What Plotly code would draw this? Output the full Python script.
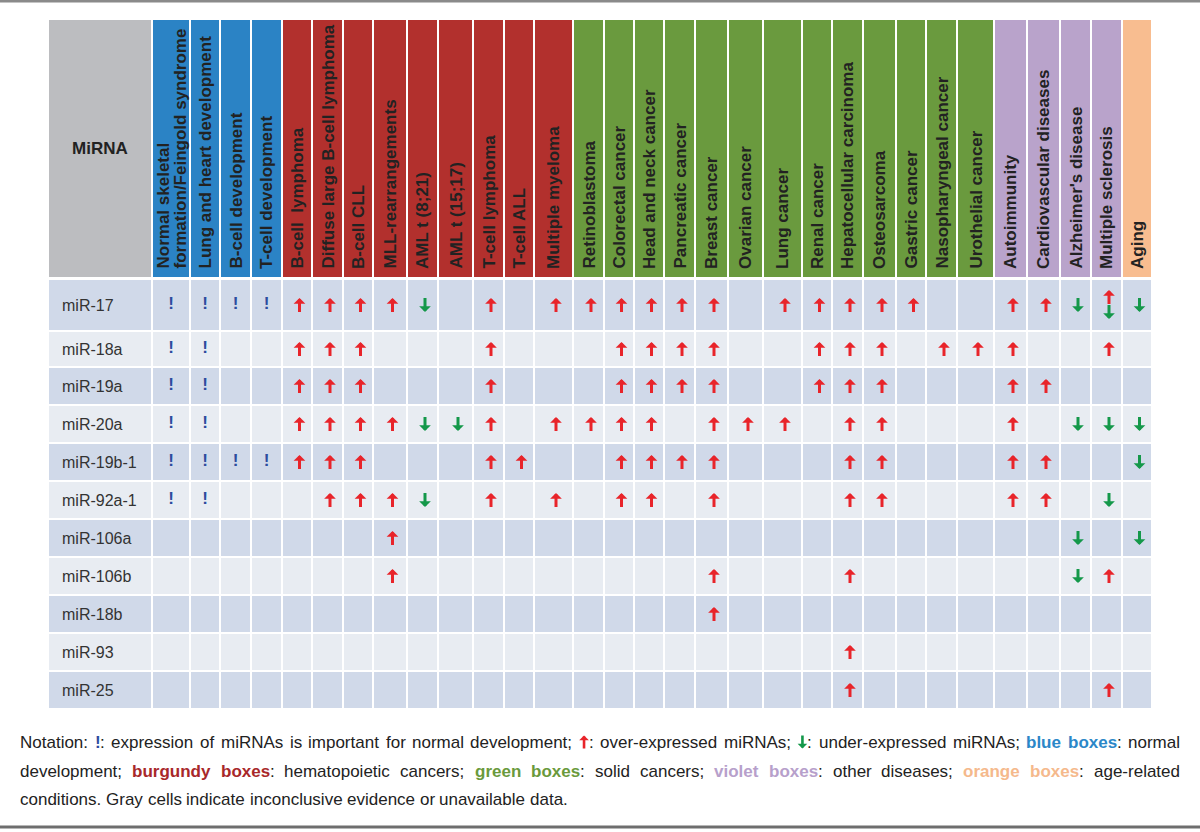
import re
import plotly.graph_objects as go

# ---------------- data ----------------
mirnas = ["miR-17", "miR-18a", "miR-19a", "miR-20a", "miR-19b-1", "miR-92a-1",
          "miR-106a", "miR-106b", "miR-18b", "miR-93", "miR-25"]

conditions = ["Normal skeletal<br>formation/Feingold syndrome", "Lung and heart development",
              "B-cell development", "T-cell development", "B-cell  lymphoma",
              "Diffuse large B-cell lymphoma", "B-cell CLL", "MLL-rearrangements",
              "AML t (8;21)", "AML t (15;17)", "T-cell lymphoma", "T-cell ALL",
              "Multiple myeloma", "Retinoblastoma", "Colorectal cancer", "Head and neck cancer",
              "Pancreatic cancer", "Breast cancer", "Ovarian cancer", "Lung cancer",
              "Renal cancer", "Hepatocellular carcinoma", "Osteosarcoma", "Gastric cancer",
              "Nasopharyngeal cancer", "Urothelial cancer", "Autoimmunity",
              "Cardiovascular diseases", "Alzheimer's disease", "Multiple sclerosis", "Aging"]

condition_groups = (["normal"] * 4 + ["hemato"] * 9 + ["solid"] * 13 +
                    ["other"] * 4 + ["age"])

# ! = important for development, u = over-expressed, d = under-expressed, ud = both, . = none
marks = [
    "! ! ! ! u u u u d . u . u u u u u u . u u u u u . . u u d ud d",
    "! ! . . u u u . . . u . . . u u u u . . u u u . u u u . . u .",
    "! ! . . u u u . . . u . . . u u u u . . u u u . . . u u . . .",
    "! ! . . u u u u d d u . u u u u . u u u . u u . . . u . d d d",
    "! ! ! ! u u u . . . u u . . u u u u . . . u u . . . u u . . d",
    "! ! . . . u u u d . u . u . u u . u . . . u u . . . u u . d .",
    ". . . . . . . u . . . . . . . . . . . . . . . . . . . . d . d",
    ". . . . . . . u . . . . . . . . . u . . . u . . . . . . d u .",
    ". . . . . . . . . . . . . . . . . u . . . . . . . . . . . . .",
    ". . . . . . . . . . . . . . . . . . . . . u . . . . . . . . .",
    ". . . . . . . . . . . . . . . . . . . . . u . . . . . . . u .",
]

notation_lines = [
    "Notation: {dev:!}: expression of miRNAs is important for normal development; {up}: "
    "over-expressed miRNAs; {down}: under-expressed miRNAs; {blue:blue} {blue:boxes}: normal",
    "development; {burgundy:burgundy} {burgundy:boxes}: hematopoietic cancers; {green:green} "
    "{green:boxes}: solid cancers; {violet:violet} {violet:boxes}: other diseases; "
    "{orange:orange} {orange:boxes}: age-related",
    "conditions. Gray cells indicate inconclusive evidence or unavailable data.",
]

# ---------------- layout geometry / styles ----------------
W, H = 1200, 832
label_edge = 48
col_edges = [152, 190, 220, 251, 282, 312, 343, 373, 407, 438, 473, 504, 534, 573, 604,
             634, 664, 695, 728, 763, 802, 832, 863, 896, 926, 957, 994, 1027, 1060, 1091,
             1122, 1152]
header_edges = [19, 278]
row_edges = [279, 331, 367, 405, 443, 481, 519, 557, 595, 633, 671, 709]

FONT = "Liberation Sans, Arial, Helvetica, sans-serif"
group_colors = {"label": "#bcbdc0", "normal": "#2b83c5", "hemato": "#b2302d",
                "solid": "#6a9a3e", "other": "#b9a3cb", "age": "#f8bd90"}
group_order = ["label", "normal", "hemato", "solid", "other", "age"]
row_light, row_dark = "#e8ecf2", "#d0d9e9"
UP_COLOR, DOWN_COLOR, DEV_COLOR = "#e8242a", "#14984a", "#2d4c9e"
note_colors = {"n": "#222222", "dev": DEV_COLOR, "blue": "#2b87c8", "burgundy": "#a8282a",
               "green": "#6a9a3c", "violet": "#b7a0cb", "orange": "#f5b98c"}

fig = go.Figure()

# header band
hdr_codes = [0] + [group_order.index(g) for g in condition_groups]
n_g = len(group_order)
hdr_scale = []
for k, g in enumerate(group_order):
    hdr_scale += [[k / n_g, group_colors[g]], [(k + 1) / n_g, group_colors[g]]]
fig.add_trace(go.Heatmap(x=[label_edge] + col_edges, y=header_edges, z=[hdr_codes],
                         zmin=-0.5, zmax=n_g - 0.5, colorscale=hdr_scale, showscale=False,
                         xgap=2, ygap=2, hoverinfo="skip"))

# body cells (alternating row shading)
body_z = [[i % 2] * (len(conditions) + 1) for i in range(len(mirnas))]
fig.add_trace(go.Heatmap(x=[label_edge] + col_edges, y=row_edges, z=body_z, zmin=0, zmax=1,
                         colorscale=[[0, row_dark], [0.5, row_dark], [0.5, row_light],
                                     [1, row_light]],
                         showscale=False, xgap=2, ygap=2, hoverinfo="skip"))

col_centers = [(col_edges[i] + col_edges[i + 1]) / 2 for i in range(len(conditions))]
row_centers = [(row_edges[i] + row_edges[i + 1]) / 2 for i in range(len(mirnas))]


def add_arrow(x, y, direction, length=14, width=3, size=0.65, xshift=2.5, dy=0):
    color = UP_COLOR if direction == "u" else DOWN_COLOR
    sign = 1 if direction == "u" else -1
    fig.add_annotation(x=x, y=y, xref="x", yref="y", text="", showarrow=True,
                       ax=0, ay=sign * length, axref="pixel", ayref="pixel",
                       arrowhead=1, arrowsize=size, arrowwidth=width, arrowcolor=color,
                       standoff=0, startstandoff=0, xshift=xshift, borderpad=0,
                       borderwidth=0, font=dict(size=1),
                       yshift=sign * length / 2 - dy)


# marks
dev_x, dev_y = [], []
for r, row in enumerate(marks):
    codes = row.split()
    for c, code in enumerate(codes):
        x, y = col_centers[c], row_centers[r]
        if code == "!":
            dev_x.append(x)
            dev_y.append(y)
        elif code == "u":
            add_arrow(x, y, "u")
        elif code == "d":
            add_arrow(x, y, "d")
        elif code == "ud":
            add_arrow(x, y, "u", dy=-8)
            add_arrow(x, y, "d", dy=7)
fig.add_trace(go.Scatter(x=dev_x, y=dev_y, mode="text", text=["<b>!</b>"] * len(dev_x),
                         textposition="middle center",
                         textfont=dict(family=FONT, size=17, color=DEV_COLOR),
                         hoverinfo="skip", showlegend=False))

# header labels
fig.add_annotation(x=(label_edge + col_edges[0]) / 2, y=148, text="<b>MiRNA</b>",
                   showarrow=False, font=dict(family=FONT, size=17, color="#222"))
for c, name in enumerate(conditions):
    lines = name.split("<br>")
    n = len(lines)
    for k, ln in enumerate(lines):
        fig.add_annotation(x=col_centers[c], y=270, text="<b>" + ln + "</b>", showarrow=False,
                           textangle=-90, xanchor="center", yanchor="bottom",
                           xshift=(k - (n - 1) / 2) * 17, borderpad=0,
                           font=dict(family=FONT, size=17, color="#222"))

# row labels
for r, name in enumerate(mirnas):
    fig.add_annotation(x=61, y=row_centers[r], text=name, showarrow=False, xanchor="left",
                       yanchor="middle", borderpad=0,
                       font=dict(family=FONT, size=16, color="#333"))

# ---------------- notation (justified text) ----------------
REG = dict(zip("abcdefghijklmnopqrstuvwxyz",
               [556, 556, 500, 556, 556, 278, 556, 556, 222, 222, 500, 222, 833, 556, 556,
                556, 556, 333, 500, 278, 556, 500, 722, 500, 500, 500]))
REG.update(dict(zip("ABCDEFGHIJKLMNOPQRSTUVWXYZ",
                    [667, 667, 722, 722, 667, 611, 778, 722, 278, 500, 667, 556, 833, 722,
                     778, 667, 778, 722, 667, 611, 722, 667, 944, 667, 667, 611])))
REG.update({" ": 278, "!": 278, ":": 278, ";": 278, ".": 278, ",": 278, "-": 333,
            "'": 191, "(": 333, ")": 333})
BLD = dict(zip("abcdefghijklmnopqrstuvwxyz",
               [556, 611, 556, 611, 556, 333, 611, 611, 278, 278, 556, 278, 889, 611, 611,
                611, 611, 389, 556, 333, 611, 556, 778, 556, 556, 500]))
BLD.update({"!": 333, ":": 333})
NOTE_SIZE = 17
ARROW_W = 10
TOK = re.compile(r"\{(\w+)(?::([^}]*))?\}|([^{]+)")


def parse_word(w):
    parts = []
    for m in TOK.finditer(w):
        if m.group(1):
            parts.append((m.group(2) or "", m.group(1)))
        else:
            parts.append((m.group(3), "n"))
    return parts


def part_width(txt, kind):
    if kind in ("up", "down"):
        return ARROW_W
    table = REG if kind == "n" else BLD
    return sum(table.get(ch, 556) for ch in txt) * NOTE_SIZE / 1000


line_y = [742, 771, 799]
x_left, x_right = 20, 1180
for li, line in enumerate(notation_lines):
    words = [parse_word(w) for w in line.split(" ")]
    widths = [sum(part_width(t, k) for t, k in wd) for wd in words]
    if li < len(notation_lines) - 1:
        gap = (x_right - x_left - sum(widths)) / (len(words) - 1)
    else:
        gap = REG[" "] * NOTE_SIZE / 1000
    x = x_left
    for wd, wdw in zip(words, widths):
        px = x
        for txt, kind in wd:
            pw = part_width(txt, kind)
            if kind == "up":
                add_arrow(px + pw / 2, line_y[li], "u", length=13, width=2.6, size=0.62,
                          xshift=0)
            elif kind == "down":
                add_arrow(px + pw / 2, line_y[li], "d", length=13, width=2.6, size=0.62,
                          xshift=0)
            else:
                t = txt if kind == "n" else "<b>" + txt + "</b>"
                fig.add_annotation(x=px, y=line_y[li], text=t, showarrow=False,
                                   xanchor="left", yanchor="middle", borderpad=0,
                                   borderwidth=0,
                                   font=dict(family=FONT, size=NOTE_SIZE,
                                             color=note_colors[kind]))
            px += pw
        x += wdw + gap

# frame lines
fig.add_shape(type="line", x0=0, x1=W, y0=1, y1=1, xref="x", yref="y",
              line=dict(color="#8a8a8a", width=3))
fig.add_shape(type="line", x0=0, x1=W, y0=827, y1=827, xref="x", yref="y",
              line=dict(color="#6e6e6e", width=3))

fig.update_layout(width=W, height=H, margin=dict(l=0, r=0, t=0, b=0),
                  paper_bgcolor="white", plot_bgcolor="white", showlegend=False,
                  xaxis=dict(range=[0, W], visible=False, fixedrange=True),
                  yaxis=dict(range=[H, 0], visible=False, fixedrange=True))

fig.write_html("out.html", config={"displayModeBar": False},
               post_script="document.body.style.margin='0px';"
                           "document.body.style.overflow='hidden';")
